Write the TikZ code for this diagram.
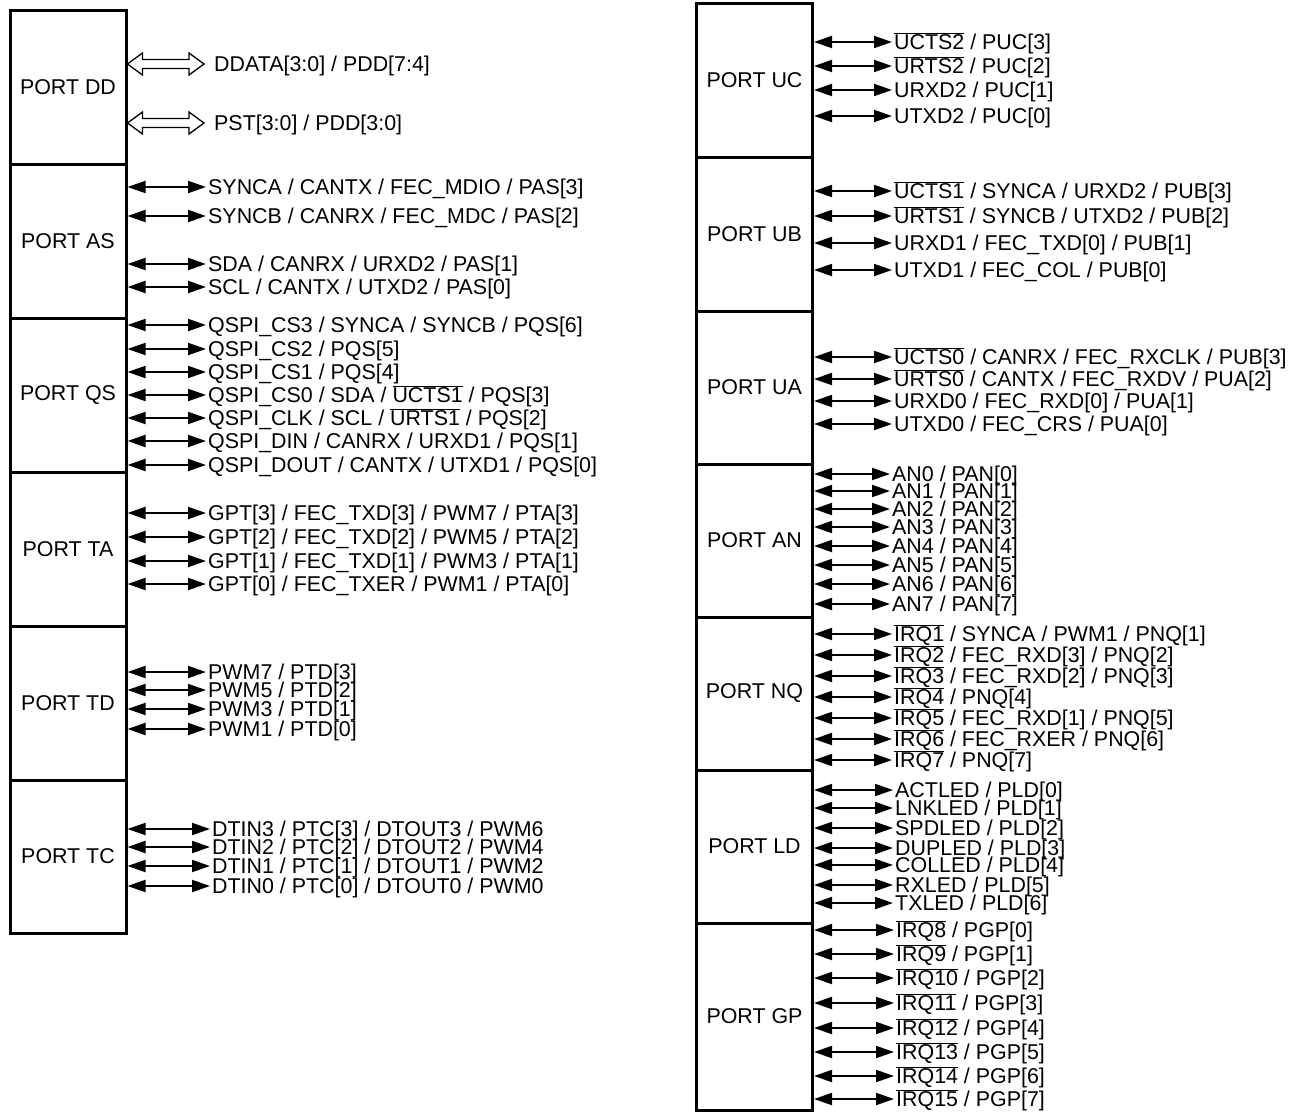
\documentclass[tikz,border=0pt]{standalone}
\usepackage{fontspec}
\setmainfont{Liberation Sans}
\usetikzlibrary{arrows.meta,calc}

\newcommand{\ovl}[1]{$\overline{\mbox{#1}}$}

\tikzset{
    portbox/.style={draw, line width=3pt, minimum width=116pt, inner sep=0pt},
    pin/.style={anchor=west, inner xsep=2pt, inner ysep=0pt, text height=15pt, text depth=0pt},
    io/.style={<->, line width=1.9pt},
    bus/.style={draw, line width=1.3pt, line join=miter},
}

\begin{document}
\begin{tikzpicture}[x=1pt, y=-1pt, >={Triangle[length=18pt,width=12pt]},
    font=\fontsize{21.4}{23}\selectfont]
    \useasboundingbox (0,0) rectangle (1295,1114);

    % port blocks
    \foreach \p/\ya/\yb/\lbl in {dd/10/164/DD, as/164/318/AS, qs/318/472/QS,
        ta/472/626/TA, td/626/780/TD, tc/780/933/TC}{%
        \node[portbox, minimum height=\yb-\ya] (\p) at (68,{(\ya+\yb)/2}) {PORT \lbl};
    }
    \foreach \p/\ya/\yb/\lbl in {uc/3/157/UC, ub/157/311/UB, ua/311/464/UA,
        an/464/617/AN, nq/617/770/NQ, ld/770/923/LD, gp/923/1110/GP}{%
        \node[portbox, minimum height=\yb-\ya] (\p) at (754.5,{(\ya+\yb)/2}) {PORT \lbl};
    }

    % left side pins
    \foreach \y/\t [count=\i] in {64/{DDATA[3:0] / PDD[7:4]}, 123/{PST[3:0] / PDD[3:0]}}{%
        \node[pin] (dd\i) at (212,\y) {\t};
        \coordinate (s) at (dd.east |- dd\i);
        \coordinate (e) at ([xshift=-8pt]dd\i.west);
        \path[bus] (s) -- ++(15,11) -- ++(0,-6.5) -- ($(e)+(-15,4.5)$) -- ++(0,6.5)
            -- (e) -- ++(-15,-11) -- ++(0,6.5) -- ($(s)+(15,-4.5)$) -- ++(0,-6.5) -- cycle;
    }
    \foreach \y/\t [count=\i] in {187/{SYNCA / CANTX / FEC\_MDIO / PAS[3]},
        216/{SYNCB / CANRX / FEC\_MDC / PAS[2]},
        264/{SDA / CANRX / URXD2 / PAS[1]},
        287/{SCL / CANTX / UTXD2 / PAS[0]}}{%
        \node[pin] (as\i) at (206,\y) {\t};
        \draw[io] (as.east |- as\i) -- (as\i.west);
    }
    \foreach \y/\t [count=\i] in {325/{QSPI\_CS3 / SYNCA / SYNCB / PQS[6]},
        349/{QSPI\_CS2 / PQS[5]},
        372/{QSPI\_CS1 / PQS[4]},
        395/{QSPI\_CS0 / SDA / \ovl{UCTS1} / PQS[3]},
        418/{QSPI\_CLK / SCL / \ovl{URTS1} / PQS[2]},
        441/{QSPI\_DIN / CANRX / URXD1 / PQS[1]},
        465/{QSPI\_DOUT / CANTX / UTXD1 / PQS[0]}}{%
        \node[pin] (qs\i) at (206,\y) {\t};
        \draw[io] (qs.east |- qs\i) -- (qs\i.west);
    }
    \foreach \y/\t [count=\i] in {513/{GPT[3] / FEC\_TXD[3] / PWM7 / PTA[3]},
        537/{GPT[2] / FEC\_TXD[2] / PWM5 / PTA[2]},
        561/{GPT[1] / FEC\_TXD[1] / PWM3 / PTA[1]},
        584/{GPT[0] / FEC\_TXER / PWM1 / PTA[0]}}{%
        \node[pin] (ta\i) at (206,\y) {\t};
        \draw[io] (ta.east |- ta\i) -- (ta\i.west);
    }
    \foreach \y/\t [count=\i] in {672/{PWM7 / PTD[3]}, 690/{PWM5 / PTD[2]},
        709/{PWM3 / PTD[1]}, 729/{PWM1 / PTD[0]}}{%
        \node[pin] (td\i) at (206,\y) {\t};
        \draw[io] (td.east |- td\i) -- (td\i.west);
    }
    \foreach \y [count=\i from 0] in {886,866,847,829}{%
        \pgfmathtruncatemacro{\w}{2*\i}
        \node[pin] (tc\i) at (210,\y) {DTIN\i{} / PTC[\i] / DTOUT\i{} / PWM\w};
        \draw[io] (tc.east |- tc\i) -- (tc\i.west);
    }

    % right side pins
    \foreach \y/\t [count=\i] in {42/{\ovl{UCTS2} / PUC[3]}, 66/{\ovl{URTS2} / PUC[2]},
        90/{URXD2 / PUC[1]}, 116/{UTXD2 / PUC[0]}}{%
        \node[pin] (uc\i) at (892,\y) {\t};
        \draw[io] (uc.east |- uc\i) -- (uc\i.west);
    }
    \foreach \y/\t [count=\i] in {191/{\ovl{UCTS1} / SYNCA / URXD2 / PUB[3]},
        216/{\ovl{URTS1} / SYNCB / UTXD2 / PUB[2]},
        243/{URXD1 / FEC\_TXD[0] / PUB[1]},
        270/{UTXD1 / FEC\_COL / PUB[0]}}{%
        \node[pin] (ub\i) at (892,\y) {\t};
        \draw[io] (ub.east |- ub\i) -- (ub\i.west);
    }
    \foreach \y/\t [count=\i] in {357/{\ovl{UCTS0} / CANRX / FEC\_RXCLK / PUB[3]},
        379/{\ovl{URTS0} / CANTX / FEC\_RXDV / PUA[2]},
        401/{URXD0 / FEC\_RXD[0] / PUA[1]},
        424/{UTXD0 / FEC\_CRS / PUA[0]}}{%
        \node[pin] (ua\i) at (892,\y) {\t};
        \draw[io] (ua.east |- ua\i) -- (ua\i.west);
    }
    \foreach \y [count=\i from 0] in {474,491,509,527,546,565,584,604}{%
        \node[pin] (an\i) at (890,\y) {AN\i{} / PAN[\i]};
        \draw[io] (an.east |- an\i) -- (an\i.west);
    }
    \foreach \y/\t [count=\i] in {634/{\ovl{IRQ1} / SYNCA / PWM1 / PNQ[1]},
        655/{\ovl{IRQ2} / FEC\_RXD[3] / PNQ[2]},
        676/{\ovl{IRQ3} / FEC\_RXD[2] / PNQ[3]},
        697/{\ovl{IRQ4} / PNQ[4]},
        718/{\ovl{IRQ5} / FEC\_RXD[1] / PNQ[5]},
        739/{\ovl{IRQ6} / FEC\_RXER / PNQ[6]},
        760/{\ovl{IRQ7} / PNQ[7]}}{%
        \node[pin] (nq\i) at (892,\y) {\t};
        \draw[io] (nq.east |- nq\i) -- (nq\i.west);
    }
    \foreach \y/\t [count=\i from 0] in {790/ACTLED, 808/LNKLED, 828/SPDLED,
        848/DUPLED, 865/COLLED, 885/RXLED, 903/TXLED}{%
        \node[pin] (ld\i) at (893,\y) {\t{} / PLD[\i]};
        \draw[io] (ld.east |- ld\i) -- (ld\i.west);
    }
    \foreach \y [count=\i from 0] in {930,954,978,1003,1028,1052,1076,1099}{%
        \pgfmathtruncatemacro{\n}{\i+8}
        \node[pin] (gp\i) at (894,\y) {\ovl{IRQ\n} / PGP[\i]};
        \draw[io] (gp.east |- gp\i) -- (gp\i.west);
    }
\end{tikzpicture}
\end{document}
